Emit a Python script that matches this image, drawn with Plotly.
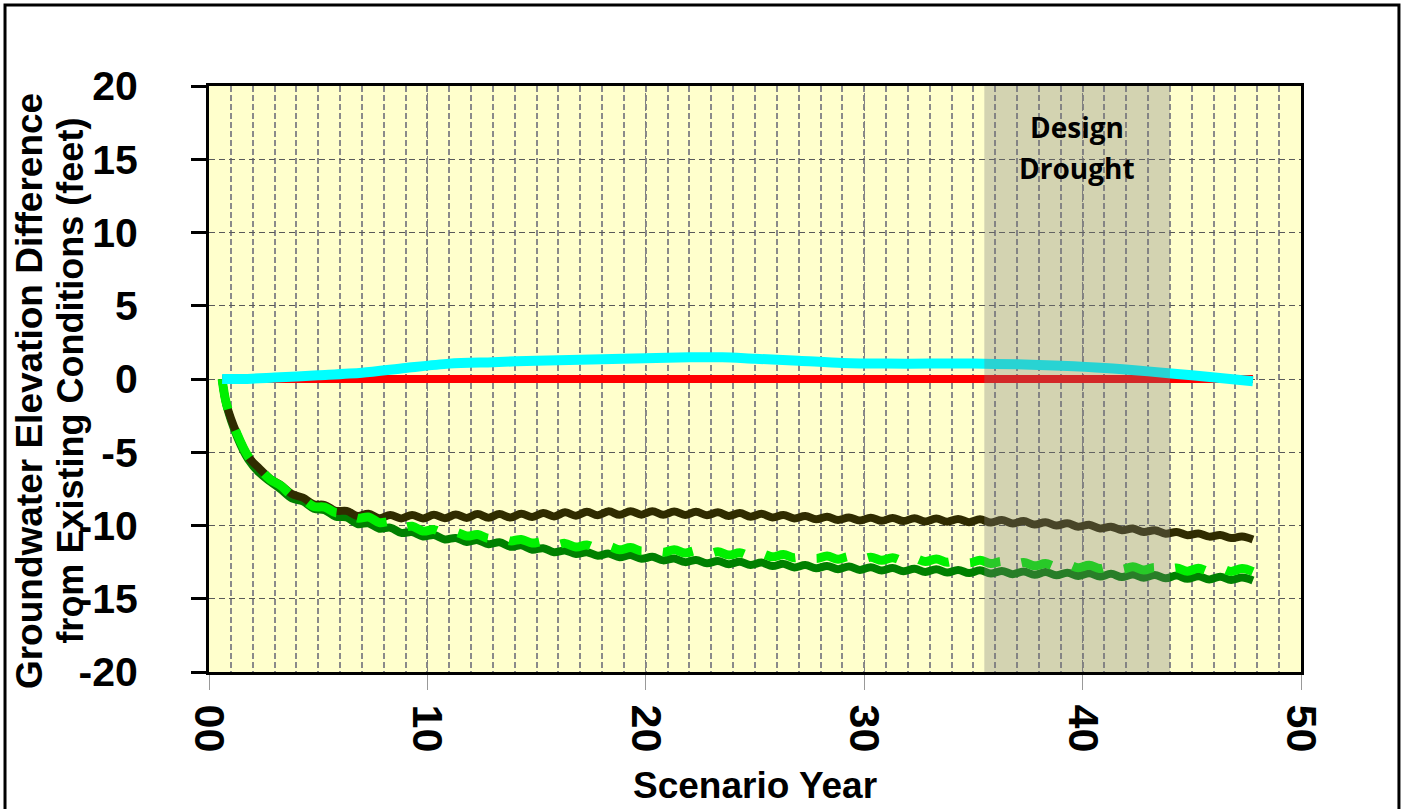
import plotly.graph_objects as go

# ---------------- data ----------------
years_wave = [0.6, 0.8, 1.3, 1.8, 2.3, 2.8, 3.3, 3.8, 4.3, 4.8, 5.3, 5.8, 6.3, 6.8, 7.3, 7.8,
              8.3, 8.8, 9.3, 9.8, 10.3, 10.8, 11.3, 11.8, 12.3, 12.8, 13.3, 13.8, 14.3, 14.8,
              15.3, 15.8, 16.3, 16.8, 17.3, 17.8, 18.3, 18.8, 19.3, 19.8, 20.3, 20.8, 21.3, 21.8,
              22.3, 22.8, 23.3, 23.8, 24.3, 24.8, 25.3, 25.8, 26.3, 26.8, 27.3, 27.8, 28.3, 28.8,
              29.3, 29.8, 30.3, 30.8, 31.3, 31.8, 32.3, 32.8, 33.3, 33.8, 34.3, 34.8, 35.3, 35.8,
              36.3, 36.8, 37.3, 37.8, 38.3, 38.8, 39.3, 39.8, 40.3, 40.8, 41.3, 41.8, 42.3, 42.8,
              43.3, 43.8, 44.3, 44.8, 45.3, 45.8, 46.3, 46.8, 47.3, 47.8]

olive_vals = [0.0, -1.7, -3.8, -5.3, -6.1, -6.8, -7.25, -7.85, -8.1, -8.55, -8.6, -9.0, -9.0, -9.35, -9.2, -9.5,
              -9.28, -9.52, -9.28, -9.52, -9.27, -9.5, -9.25, -9.48, -9.22, -9.47, -9.22, -9.45, -9.2, -9.42,
              -9.15, -9.38, -9.1, -9.33, -9.06, -9.3, -9.03, -9.27, -9.02, -9.26, -9.02, -9.27, -9.04, -9.28,
              -9.06, -9.3, -9.1, -9.35, -9.15, -9.4, -9.2, -9.45, -9.28, -9.52, -9.35, -9.58, -9.4, -9.62,
              -9.45, -9.66, -9.47, -9.68, -9.48, -9.7, -9.5, -9.72, -9.52, -9.74, -9.55, -9.77, -9.58, -9.8,
              -9.63, -9.86, -9.7, -9.93, -9.78, -10.0, -9.85, -10.08, -9.95, -10.2, -10.08, -10.32, -10.2, -10.45,
              -10.32, -10.56, -10.44, -10.66, -10.55, -10.76, -10.65, -10.86, -10.75, -10.95]

green_vals = [0.0, -1.8, -4.0, -5.5, -6.4, -7.0, -7.55, -8.15, -8.35, -8.85, -8.95, -9.4, -9.45, -9.9, -9.85, -10.22,
              -10.15, -10.5, -10.45, -10.75, -10.65, -10.95, -10.85, -11.12, -11.0, -11.28, -11.15, -11.45, -11.35, -11.65,
              -11.55, -11.82, -11.7, -11.95, -11.82, -12.06, -11.92, -12.16, -12.02, -12.27, -12.14, -12.38, -12.25, -12.5,
              -12.35, -12.58, -12.42, -12.64, -12.47, -12.7, -12.53, -12.77, -12.62, -12.86, -12.7, -12.92, -12.76, -12.98,
              -12.8, -13.03, -12.85, -13.07, -12.9, -13.12, -12.95, -13.17, -12.99, -13.21, -13.03, -13.25, -13.06, -13.28,
              -13.1, -13.32, -13.14, -13.36, -13.18, -13.4, -13.22, -13.44, -13.26, -13.48, -13.3, -13.52, -13.34, -13.56,
              -13.38, -13.6, -13.42, -13.64, -13.46, -13.68, -13.5, -13.72, -13.55, -13.75]

lime_vals = [0.0, -1.7, -3.8, -5.3, -6.1, -6.85, -7.3, -7.95, -8.2, -8.7, -8.75, -9.12, -9.12, -9.5, -9.42, -9.8,
             -9.75, -10.12, -10.05, -10.38, -10.28, -10.55, -10.45, -10.72, -10.62, -10.88, -10.78, -11.05, -10.95, -11.2,
             -11.1, -11.35, -11.22, -11.47, -11.33, -11.57, -11.42, -11.66, -11.5, -11.74, -11.58, -11.82, -11.65, -11.88,
             -11.72, -11.95, -11.8, -12.02, -11.86, -12.08, -11.92, -12.14, -11.98, -12.2, -12.03, -12.25, -12.08, -12.3,
             -12.12, -12.34, -12.16, -12.38, -12.2, -12.42, -12.24, -12.46, -12.28, -12.5, -12.32, -12.55, -12.38, -12.6,
             -12.45, -12.68, -12.52, -12.75, -12.6, -12.82, -12.66, -12.88, -12.72, -12.94, -12.77, -12.99, -12.82, -13.04,
             -12.86, -13.08, -12.9, -13.12, -12.92, -13.13, -12.93, -13.14, -12.94, -13.15]

years_red = [0.6, 10, 20, 30, 40, 47.8]
red_vals = [0.0, 0.0, 0.0, 0.0, 0.0, 0.0]

years_cyan = [0.6, 1.5, 3, 5, 7, 9, 11, 13, 15, 18, 20, 22, 23.5, 25, 27, 29, 31, 33, 35, 37, 39,
              41, 43, 45, 47.8]
cyan_vals = [0.0, 0.0, 0.1, 0.25, 0.42, 0.75, 1.05, 1.15, 1.25, 1.35, 1.42, 1.48, 1.48, 1.38, 1.25,
             1.1, 1.05, 1.05, 1.05, 1.0, 0.9, 0.75, 0.52, 0.25, -0.15]

drought_years = [35.5, 44.0]
drought_label = ["Design", "Drought"]

x_ticks = [0, 10, 20, 30, 40, 50]
x_ticktext = ["00", "10", "20", "30", "40", "50"]
y_ticks = [-20, -15, -10, -5, 0, 5, 10, 15, 20]
y_ticktext = ["-20", "-15", "-10", "-5", "0", "5", "10", "15", "20"]

# ---------------- figure ----------------
fig = go.Figure()

fig.add_trace(go.Scatter(x=years_wave, y=green_vals, mode="lines",
                         line=dict(color="#008000", width=8, shape="spline", smoothing=1)))
fig.add_trace(go.Scatter(x=years_wave, y=olive_vals, mode="lines",
                         line=dict(color="#302C00", width=8, shape="spline", smoothing=1)))
fig.add_trace(go.Scatter(x=years_wave, y=lime_vals, mode="lines",
                         line=dict(color="#00F000", width=9, shape="spline", smoothing=1,
                                   dash="31px,22px")))
fig.add_trace(go.Scatter(x=years_red, y=red_vals, mode="lines",
                         line=dict(color="#FF0000", width=8)))
fig.add_trace(go.Scatter(x=years_cyan, y=cyan_vals, mode="lines",
                         line=dict(color="#00FFFF", width=10, shape="spline", smoothing=0.8)))

# drought shading overlay (above lines)
fig.add_shape(type="rect", xref="x", yref="paper", x0=drought_years[0], x1=drought_years[1],
              y0=0, y1=1, fillcolor="rgba(120,120,120,0.33)", line=dict(width=0), layer="above")

# drought label
fig.add_annotation(x=sum(drought_years) / 2, y=17.2, xref="x", yref="y", text=drought_label[0],
                   showarrow=False, font=dict(family="Open Sans", size=28, color="black", weight="bold"))
fig.add_annotation(x=sum(drought_years) / 2, y=14.4, xref="x", yref="y", text=drought_label[1],
                   showarrow=False, font=dict(family="Open Sans", size=28, color="black", weight="bold"))

# outer chart border
fig.add_shape(type="rect", xref="paper", yref="paper", x0=-0.1868, x1=1.0897, y0=-0.25, y1=1.1382,
              line=dict(color="black", width=3), fillcolor="rgba(0,0,0,0)", layer="above")

axis_font = dict(family="Liberation Sans", color="black", weight="bold")

fig.update_layout(
    width=1404, height=809,
    margin=dict(l=209, r=103, t=86, b=137, pad=0),
    paper_bgcolor="white", plot_bgcolor="#FFFFCC",
    showlegend=False,
    xaxis=dict(range=[0, 50], tickvals=x_ticks, ticktext=x_ticktext, tickangle=90,
               tickfont=dict(size=43, **axis_font), ticks="outside", ticklen=15, tickwidth=1,
               tickcolor="#999999", ticklabelstandoff=6,
               showgrid=True, gridcolor="#808080", gridwidth=1, griddash="4px,3px",
               minor=dict(dtick=1, tick0=0, showgrid=True, gridcolor="#8a8a8a", gridwidth=2,
                          griddash="6px,3px", ticks=""),
               showline=True, linecolor="black", linewidth=3, mirror=True, zeroline=False,
               automargin=False),
    yaxis=dict(range=[-20, 20], tickvals=y_ticks, ticktext=y_ticktext,
               tickfont=dict(size=41, **axis_font), ticks="outside", ticklen=15, tickwidth=3,
               tickcolor="black", ticklabelstandoff=45,
               showgrid=True, gridcolor="#595959", gridwidth=1, griddash="6px,4px",
               showline=True, linecolor="black", linewidth=3, mirror=True, zeroline=False,
               automargin=False),
)

# axis titles as annotations
fig.add_annotation(x=0.5, y=-0.1945, xref="paper", yref="paper", text="Scenario Year",
                   showarrow=False, xanchor="center", yanchor="middle",
                   font=dict(size=37, **axis_font))
fig.add_annotation(x=-0.1645, y=0.48, xref="paper", yref="paper",
                   text="Groundwater Elevation Difference", textangle=-90,
                   showarrow=False, xanchor="center", yanchor="middle",
                   font=dict(size=37, **axis_font))
fig.add_annotation(x=-0.1265, y=0.497, xref="paper", yref="paper",
                   text="from Existing Conditions (feet)", textangle=-90,
                   showarrow=False, xanchor="center", yanchor="middle",
                   font=dict(size=36, **axis_font))

fig.write_html("out.html")
